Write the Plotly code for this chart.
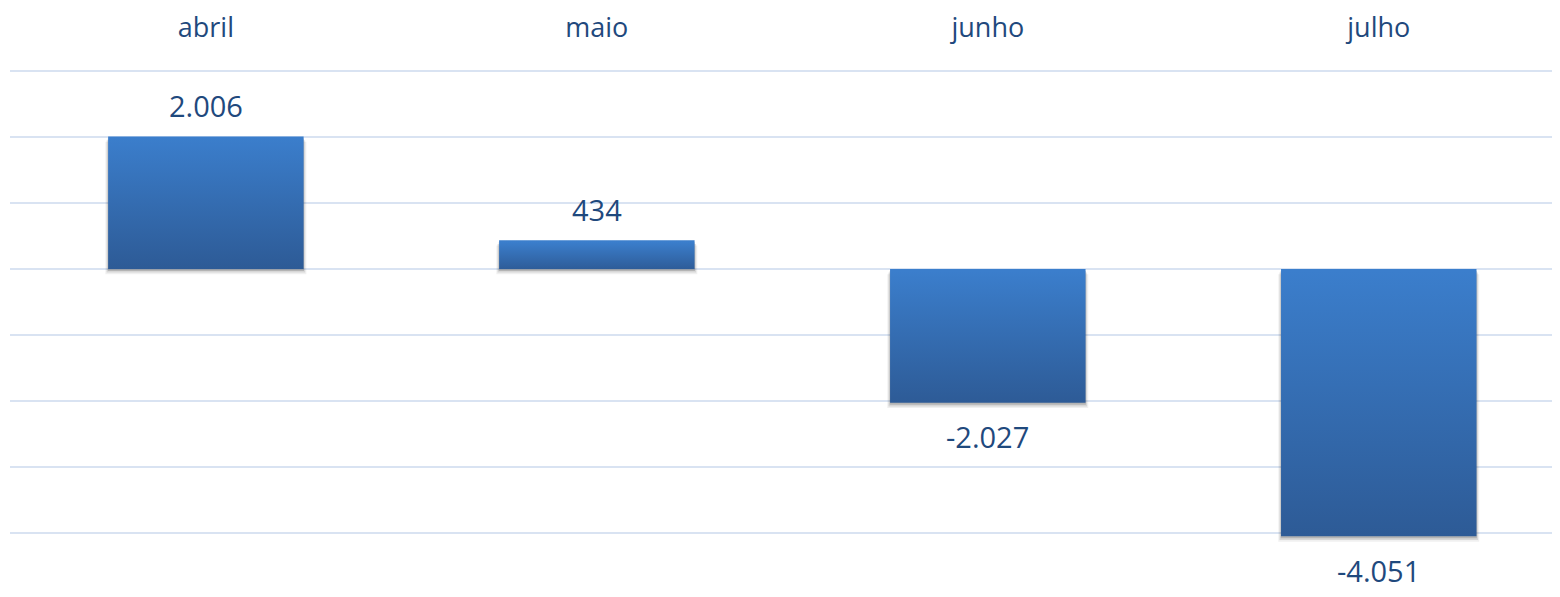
import plotly.graph_objects as go

categories = ["abril", "maio", "junho", "julho"]
values = [2006, 434, -2027, -4051]

TEXT = "#1F497D"
TOP_C = "#3B7ECC"
BOT_C = "#2D5A95"
HALF = 0.25

def fmt(v):
    return f"{v:,}".replace(",", ".")

fig = go.Figure()

# soft shadows
for off, op, hw in [(80, 0.06, HALF + 0.007), (55, 0.10, HALF + 0.004), (30, 0.16, HALF + 0.001)]:
    fig.add_trace(go.Bar(
        x=list(range(len(values))),
        y=[abs(v) for v in values],
        base=[min(v, 0) - off for v in values],
        width=hw * 2,
        marker=dict(color=f"rgba(0,0,0,{op})", line=dict(width=0)),
        hoverinfo="skip", showlegend=False,
    ))

# gradient bars
for i, v in enumerate(values):
    lo, hi = min(0, v), max(0, v)
    fig.add_trace(go.Scatter(
        x=[i - HALF, i + HALF, i + HALF, i - HALF, i - HALF],
        y=[lo, lo, hi, hi, lo],
        mode="lines", fill="toself",
        line=dict(width=0, color=TOP_C),
        fillgradient=dict(type="vertical",
                          colorscale=[[0, BOT_C], [1, TOP_C]],
                          start=lo, stop=hi),
        hoverinfo="skip", showlegend=False,
    ))

for i, v in enumerate(values):
    fig.add_annotation(
        x=i, y=v, text=fmt(v), showarrow=False,
        yshift=31 if v >= 0 else -34,
        font=dict(family="Open Sans", size=29, color=TEXT),
    )

fig.update_layout(
    width=1560, height=597,
    margin=dict(l=2, r=0, t=53, b=39),
    paper_bgcolor="white", plot_bgcolor="white",
    barmode="overlay",
    showlegend=False,
    font=dict(family="Open Sans", size=27, color=TEXT),
    xaxis=dict(
        range=[-0.501, 3.484],
        tickvals=list(range(len(categories))),
        ticktext=categories,
        side="top", showgrid=False, zeroline=False, showline=False,
        ticks="outside", ticklen=17, tickcolor="rgba(0,0,0,0)",
        tickfont=dict(family="Open Sans", size=27, color=TEXT),
        fixedrange=True,
    ),
    yaxis=dict(
        range=[-4500, 3075],
        dtick=1000, tick0=0,
        showgrid=True, gridcolor="#D9E3F2", gridwidth=2,
        zeroline=False, showticklabels=False, showline=False,
        fixedrange=True,
    ),
)

fig.write_html("out.html")
